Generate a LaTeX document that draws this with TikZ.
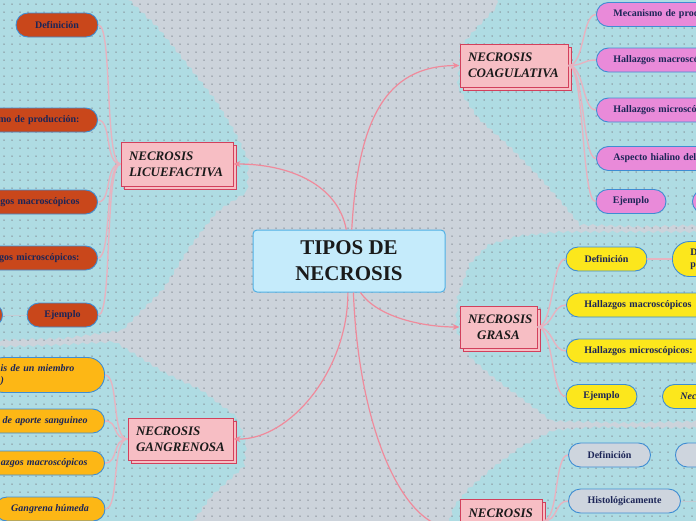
\documentclass[tikz,border=0pt]{standalone}
\usepackage{fontspec}
\setmainfont{Liberation Serif}
\usepackage{xcolor}
\usepackage{tikz}
\usetikzlibrary{arrows.meta,shadows,decorations.pathmorphing}
\definecolor{fondo}{RGB}{204,211,219}
\definecolor{celeste}{RGB}{175,220,227}
\definecolor{punto}{RGB}{128,135,144}
\definecolor{cielo}{RGB}{197,235,251}
\definecolor{cieloborde}{RGB}{80,176,229}
\definecolor{rosa}{RGB}{247,190,196}
\definecolor{rosaborde}{RGB}{210,64,92}
\definecolor{enlacec}{RGB}{240,138,155}
\definecolor{ramac}{RGB}{231,179,192}
\definecolor{naranja}{RGB}{201,71,27}
\definecolor{orquidea}{RGB}{233,138,217}
\definecolor{amarillo}{RGB}{252,231,28}
\definecolor{ambar}{RGB}{253,183,21}
\definecolor{grisazul}{RGB}{206,213,222}
\definecolor{subborde}{RGB}{62,141,211}
\definecolor{marino}{RGB}{28,37,87}
\definecolor{tinta}{RGB}{26,26,26}
\definecolor{colac}{RGB}{196,204,212}

\tikzset{
  raiz/.style={fill=cielo,draw=cieloborde,line width=1pt,rounded corners=4pt,
    minimum width=192pt,minimum height=62pt,align=center,text=tinta,
    font=\bfseries\fontsize{21}{26}\selectfont},
  tema/.style={fill=rosa,draw=rosaborde,line width=1pt,inner xsep=8pt,
    copy shadow={shadow xshift=3pt,shadow yshift=-3pt,fill=rosa,draw=rosaborde,line width=1pt},
    align=left,text=tinta,font=\bfseries\itshape\fontsize{13}{16}\selectfont},
  sub/.style={draw=subborde,line width=0.9pt,rounded corners=12pt,minimum height=24pt,
    inner xsep=0pt,text=marino,font=\bfseries\fontsize{10}{12}\selectfont},
  subit/.style={sub,font=\bfseries\itshape\fontsize{10}{12}\selectfont},
  enlace/.style={draw=enlacec,line width=1.2pt,-{Stealth[length=7pt,width=6pt]}},
  rama/.style={draw=ramac,line width=1.4pt},
  cola/.style={draw=colac,line width=0.9pt},
  zona/.style={fill=celeste,decorate,decoration={snake,amplitude=1.2pt,segment length=9pt}},
  puntos/.style={draw=punto,line width=1.5pt,line cap=round,dash pattern=on 0pt off 8pt}
}

\begin{document}
\begin{tikzpicture}[x=1pt,y=-1pt]
\useasboundingbox (0,0) rectangle (696,520);
\clip (0,0) rectangle (696,520);
\fill[fondo] (-10,-10) rectangle (706,530);

% zonas claras
\fill[zona] (-10,-10) -- (116,-10) -- (155,27) -- (187,67) -- (213,100) -- (233,133) -- (246,160)
  -- (245,192) -- (213,213) -- (187,247) -- (160,290) -- (120,330) -- (60,338) -- (-10,340) -- cycle;
\fill[zona] (-10,347) -- (60,345) -- (110,342) -- (160,373) -- (200,392) -- (233,417) -- (242,445)
  -- (240,467) -- (207,497) -- (187,525) -- (-10,525) -- cycle;
\fill[zona] (497,-10) -- (497,2) -- (473,27) -- (458,45) -- (455,85) -- (473,112) -- (507,143)
  -- (540,177) -- (560,200) -- (578,222) -- (640,224) -- (710,222) -- (710,-10) -- cycle;
\fill[zona] (710,232) -- (560,232) -- (520,236) -- (490,245) -- (470,265) -- (458,298) -- (456,330)
  -- (470,358) -- (493,378) -- (523,400) -- (552,422) -- (620,424) -- (710,422) -- cycle;
\fill[zona] (710,428) -- (600,427) -- (557,430) -- (523,447) -- (495,468) -- (473,487) -- (458,505)
  -- (450,530) -- (710,530) -- cycle;

% trama de puntos
\foreach \y in {4,12,...,516}
  \draw[puntos] (4,\y) -- (700,\y);

% nodo central y temas
\node[raiz] (raiz) at (349,261) {TIPOS DE\\NECROSIS};
\node[tema,text width=96pt,minimum height=44pt] (licue) at (177,164) {NECROSIS\\LICUEFACTIVA};
\node[tema,text width=92pt,minimum height=43pt] (coag) at (514,65.5) {NECROSIS\\COAGULATIVA};
\node[tema,text width=61pt,minimum height=42pt,align=center] (grasa) at (498.5,327) {NECROSIS\\GRASA};
\node[tema,text width=89pt,minimum height=42pt] (gangr) at (180.5,439) {NECROSIS\\GANGRENOSA};
\node[tema,text width=66pt,minimum height=44pt,anchor=north west] (nfondo) at (460,498.5) {NECROSIS\\\mbox{}};

% enlaces principales
\draw[enlace] (raiz.95) .. controls (338,185) and (290,164) .. (licue.east);
\draw[enlace] (raiz.85) .. controls (358,120) and (385,66) .. (coag.west);
\draw[enlace] (raiz.-70) .. controls (378,318) and (425,327) .. (grasa.west);
\draw[enlace] (raiz.-92) .. controls (348,370) and (290,440) .. (gangr.east);
\draw[enlace] (raiz.-82) .. controls (358,420) and (400,530) .. (nfondo.190);

% licuefactiva
\node[sub,fill=naranja,minimum width=82pt] (ldef) at (57,25) {Definición};
\node[sub,fill=naranja,anchor=east,text width=130pt,align=right,inner xsep=18pt] (lmec) at (98,120) {smo de producción:};
\node[sub,fill=naranja,anchor=east,text width=130pt,align=right,inner xsep=18pt] (lmac) at (98,202) {egos macroscópicos};
\node[sub,fill=naranja,anchor=east,text width=130pt,align=right,inner xsep=18pt] (lmic) at (98,258) {gos microscópicos:};
\node[sub,fill=naranja,minimum width=71pt] (lej) at (62.5,315) {Ejemplo};
\node[sub,fill=naranja,anchor=east,minimum width=40pt] (lotro) at (3,315) {};
\draw[cola] (lotro.east) -- (lej.west);
\foreach \s in {ldef,lmec,lmac,lmic,lej}
  \draw[rama] (licue.west) .. controls +(-16,0) and +(14,0) .. (\s.east);

% gangrenosa
\node[subit,fill=ambar,anchor=east,minimum height=35pt,rounded corners=17pt,text width=90pt,align=left,inner xsep=14pt] (gmie) at (105,375) {is de un miembro\\)};
\node[subit,fill=ambar,anchor=east,text width=130pt,align=right,inner xsep=17pt] (gapo) at (105,421) {de aporte sanguineo};
\node[subit,fill=ambar,anchor=east,text width=130pt,align=right,inner xsep=17pt] (gmac) at (105,463) {azgos macroscópicos};
\node[subit,fill=ambar,minimum width=110pt] (ghum) at (50,509) {Gangrena húmeda};
\foreach \s in {gmie,gapo,gmac,ghum}
  \draw[rama] (gangr.west) .. controls +(-16,0) and +(14,0) .. (\s.east);

% coagulativa
\node[sub,fill=orquidea,anchor=west,text width=130pt,align=left,inner xsep=17pt] (cmec) at (596,14.5) {Mecanismo de prod};
\node[sub,fill=orquidea,anchor=west,text width=130pt,align=left,inner xsep=17pt] (cmac) at (596,60) {Hallazgos macroscó};
\node[sub,fill=orquidea,anchor=west,text width=130pt,align=left,inner xsep=17pt] (cmic) at (596,110) {Hallazgos microscó};
\node[sub,fill=orquidea,anchor=west,text width=130pt,align=left,inner xsep=17pt] (casp) at (596,158.5) {Aspecto hialino del};
\node[sub,fill=orquidea,minimum width=70pt] (cej) at (631,201.5) {Ejemplo};
\node[sub,fill=orquidea,anchor=west,minimum width=40pt] (cotro) at (692,201.5) {};
\foreach \s in {cmec,cmac,cmic,casp,cej}
  \draw[rama] (coag.east) .. controls +(16,0) and +(-14,0) .. (\s.west);

% grasa
\node[sub,fill=amarillo,minimum width=81pt] (ydef) at (606.5,259) {Definición};
\node[sub,fill=amarillo,anchor=west,minimum height=35pt,rounded corners=17pt,text width=60pt,align=left,inner xsep=18pt] (ydos) at (672,259) {D\\p};
\draw[rama] (ydef.east) -- (ydos.west);
\node[sub,fill=amarillo,anchor=west,text width=130pt,align=left,inner xsep=18pt] (ymac) at (566,305) {Hallazgos macroscópicos};
\node[sub,fill=amarillo,anchor=west,text width=130pt,align=left,inner xsep=18pt] (ymic) at (566,351) {Hallazgos microscópicos:};
\node[sub,fill=amarillo,minimum width=71pt] (yej) at (601.5,396.5) {Ejemplo};
\node[subit,fill=amarillo,anchor=west,text width=60pt,align=left,inner xsep=18pt] (ynec) at (662,396.5) {Nec};
\foreach \s in {ydef,ymac,ymic,yej}
  \draw[rama] (grasa.east) .. controls +(16,0) and +(-14,0) .. (\s.west);

% cuarto tema
\node[sub,fill=grisazul,minimum width=82pt] (bdef) at (609.5,455) {Definición};
\node[sub,fill=grisazul,anchor=west,minimum width=40pt] (botro) at (675,455) {};
\node[sub,fill=grisazul,minimum width=112pt] (bhis) at (624.5,501) {Histológicamente};
\coordinate (bfuera) at (700,501);
\draw[cola] (bhis.east) -- (bfuera);
\foreach \s in {bdef,bhis}
  \draw[rama] (nfondo.east) .. controls +(16,0) and +(-14,0) .. (\s.west);
\end{tikzpicture}
\end{document}
